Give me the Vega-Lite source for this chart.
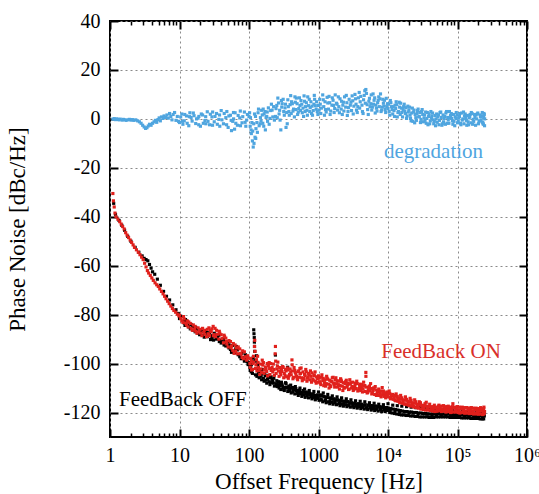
{
"$schema":"https://vega.github.io/schema/vega-lite/v6.json",
"width":417,"height":416,
"autosize":"none",
"padding":{"left":110,"top":21,"right":12,"bottom":57},
"background":"white",
"config":{"view":{"stroke":"black","strokeWidth":2},"font":"Liberation Serif"},
"datasets":{
"deg":[
{"f":1.1,"v":-0.1},{"f":1.15,"v":0.1},{"f":1.2,"v":-0.3},{"f":1.25,"v":0},{"f":1.3,"v":-0.2},{"f":1.35,"v":-0.4},{"f":1.4,"v":-0.1},{"f":1.5,"v":-0.5},{"f":1.55,"v":-0.2},{"f":1.6,"v":-0.3},{"f":1.7,"v":-0.6},{"f":1.8,"v":-0.4},{"f":1.9,"v":-0.2},{"f":2.0,"v":-0.5},{"f":2.1,"v":-0.3},{"f":2.2,"v":-0.6},{"f":2.35,"v":-0.4},{"f":2.5,"v":-0.8},{"f":2.65,"v":-1.2},{"f":2.8,"v":-1.8},{"f":2.95,"v":-2.6},{"f":3.1,"v":-3.3},{"f":3.25,"v":-3.9},{"f":3.4,"v":-3.6},{"f":3.55,"v":-2.9},{"f":3.7,"v":-2.2},{"f":3.9,"v":-2.6},{"f":4.1,"v":-1.8},{"f":4.3,"v":-1.2},{"f":4.5,"v":-0.6},{"f":4.7,"v":-1.4},{"f":4.9,"v":-0.3},{"f":5.1,"v":0.4},{"f":5.3,"v":-0.8},{"f":5.5,"v":0.8},{"f":5.8,"v":0.2},{"f":6.0,"v":1.2},{"f":6.3,"v":0.6},{"f":6.6,"v":1.6},{"f":6.9,"v":0.3},{"f":7.2,"v":2.2},{"f":7.5,"v":1.0},{"f":7.8,"v":-0.4},{"f":8.1,"v":1.8},{"f":8.5,"v":2.6},{"f":8.9,"v":-0.6},{"f":9.3,"v":1.0},{"f":9.7,"v":-1.0},
{"f":10,"v":-1.5},{"f":10.8,"v":2.0},{"f":11.7,"v":-0.8},{"f":12.6,"v":1.2},{"f":13.6,"v":-2.8},{"f":14.7,"v":0.6},{"f":15.8,"v":2.4},{"f":17.1,"v":-1.9},{"f":18.5,"v":0.3},{"f":20,"v":-3.0},{"f":21.5,"v":1.6},{"f":23.2,"v":-0.7},{"f":25.1,"v":2.9},{"f":27.1,"v":-2.4},{"f":29.3,"v":0.8},{"f":31.6,"v":-1.2},{"f":34.1,"v":2.2},{"f":36.8,"v":-0.2},{"f":39.8,"v":3.4},{"f":42.9,"v":-2.0},{"f":46.4,"v":0.5},{"f":50.1,"v":-3.5},{"f":54.1,"v":1.5},{"f":58.4,"v":-1.0},{"f":63.1,"v":2.5},{"f":68.1,"v":-2.6},{"f":73.6,"v":0.4},{"f":79.4,"v":-1.6},{"f":85.8,"v":2.8},{"f":92.6,"v":-0.5},
{"f":11.2,"v":-2.2},{"f":14.1,"v":2.5},{"f":19,"v":1.0},{"f":24,"v":-2.0},{"f":30,"v":2.8},{"f":38,"v":-3.0},{"f":48,"v":3.0},{"f":60,"v":0.0},{"f":75,"v":3.2},{"f":90,"v":-3.0},{"f":56,"v":-4.8},{"f":62,"v":-4.2},
{"f":10.4,"v":0.8},{"f":11.0,"v":-1.0},{"f":11.9,"v":1.8},{"f":12.9,"v":-1.8},{"f":13.9,"v":0.9},{"f":15.2,"v":-0.9},{"f":16.2,"v":1.3},{"f":17.6,"v":0.0},{"f":18.9,"v":-2.4},{"f":20.6,"v":2.0},{"f":22.0,"v":-1.8},{"f":23.8,"v":0.9},{"f":25.7,"v":-1.0},{"f":27.8,"v":1.9},{"f":29.9,"v":-2.6},{"f":32.4,"v":1.0},{"f":35.0,"v":-2.2},{"f":37.7,"v":1.6},{"f":40.8,"v":-0.4},{"f":44.0,"v":2.2},{"f":47.6,"v":-2.4},{"f":51.3,"v":1.2},{"f":55.4,"v":-0.6},{"f":59.8,"v":2.6},{"f":64.6,"v":-1.8},{"f":69.8,"v":1.4},{"f":75.4,"v":-2.8},{"f":81.3,"v":0.9},{"f":87.9,"v":-1.4},{"f":94.9,"v":1.8},
{"f":100,"v":1.0},{"f":104,"v":-3.0},{"f":108,"v":-6.0},{"f":112,"v":-9.0},{"f":115,"v":-11.5},{"f":118,"v":-10.0},{"f":122,"v":-7.5},{"f":126,"v":-4.0},{"f":130,"v":-1.5},{"f":135,"v":2.5},{"f":140,"v":-2.8},{"f":146,"v":0.5},{"f":152,"v":3.5},{"f":158,"v":-1.8},{"f":165,"v":2.0},{"f":172,"v":-4.5},{"f":180,"v":1.0},{"f":190,"v":4.5},{"f":200,"v":0.2},{"f":215,"v":3.6},{"f":232,"v":-0.5},{"f":251,"v":5.5},{"f":271,"v":2.0},{"f":293,"v":7.5},{"f":316,"v":3.0},{"f":341,"v":-3.5},{"f":355,"v":-2.0},{"f":368,"v":5.0},{"f":398,"v":9.5},{"f":429,"v":3.2},{"f":464,"v":6.8},{"f":501,"v":1.8},{"f":541,"v":5.5},{"f":584,"v":2.5},{"f":631,"v":7.2},{"f":681,"v":3.5},{"f":736,"v":8.0},{"f":794,"v":2.2},{"f":858,"v":6.0},{"f":926,"v":4.0},
{"f":105,"v":0.5},{"f":110,"v":-1.5},{"f":120,"v":2.0},{"f":125,"v":-8.0},{"f":145,"v":-2.0},{"f":160,"v":4.0},{"f":185,"v":-1.0},{"f":210,"v":6.0},{"f":240,"v":1.0},{"f":260,"v":8.5},{"f":280,"v":-0.5},{"f":300,"v":6.2},{"f":330,"v":4.5},{"f":380,"v":1.5},{"f":410,"v":7.0},{"f":450,"v":0.8},{"f":480,"v":8.5},{"f":520,"v":4.2},{"f":560,"v":7.5},{"f":610,"v":1.0},{"f":650,"v":5.0},{"f":700,"v":9.0},{"f":760,"v":4.6},{"f":820,"v":1.5},{"f":880,"v":8.0},{"f":960,"v":3.0},
{"f":102,"v":2.5},{"f":107,"v":-4.5},{"f":113,"v":-5.0},{"f":117,"v":-2.0},{"f":124,"v":1.0},{"f":132,"v":-5.5},{"f":137,"v":4.0},{"f":149,"v":-0.8},{"f":155,"v":1.6},{"f":163,"v":-3.0},{"f":170,"v":3.0},{"f":176,"v":0.6},{"f":183,"v":2.8},{"f":195,"v":-2.2},{"f":205,"v":3.4},{"f":220,"v":0.8},{"f":226,"v":5.0},{"f":245,"v":4.2},{"f":255,"v":0.5},{"f":266,"v":6.5},{"f":276,"v":3.5},{"f":287,"v":-4.5},{"f":296,"v":4.8},{"f":310,"v":8.0},{"f":322,"v":1.5},{"f":335,"v":6.0},{"f":348,"v":2.6},{"f":362,"v":7.8},{"f":375,"v":3.0},{"f":390,"v":5.8},{"f":405,"v":2.2},{"f":420,"v":6.2},{"f":438,"v":4.0},{"f":458,"v":9.0},{"f":472,"v":3.8},{"f":492,"v":6.2},{"f":512,"v":2.8},{"f":532,"v":8.6},{"f":552,"v":3.4},{"f":575,"v":6.0},{"f":598,"v":4.4},{"f":620,"v":9.4},{"f":642,"v":3.0},{"f":668,"v":6.6},{"f":692,"v":1.5},{"f":720,"v":5.4},{"f":748,"v":3.0},{"f":778,"v":7.0},{"f":806,"v":5.2},{"f":840,"v":3.4},{"f":870,"v":9.6},{"f":900,"v":5.4},{"f":940,"v":7.0},{"f":980,"v":1.8},
{"f":1000,"v":5.5},{"f":1080,"v":2.2},{"f":1170,"v":7.8},{"f":1260,"v":3.8},{"f":1360,"v":6.5},{"f":1470,"v":1.8},{"f":1580,"v":8.6},{"f":1710,"v":4.2},{"f":1850,"v":6.0},{"f":2000,"v":2.5},{"f":2150,"v":7.2},{"f":2320,"v":3.2},{"f":2510,"v":9.6},{"f":2710,"v":4.6},{"f":2930,"v":6.8},{"f":3160,"v":2.0},{"f":3410,"v":8.2},{"f":3680,"v":5.0},{"f":3980,"v":7.0},{"f":4290,"v":3.0},{"f":4640,"v":11.5},{"f":5010,"v":5.8},{"f":5410,"v":8.4},{"f":5840,"v":3.6},{"f":6310,"v":7.6},{"f":6810,"v":4.4},{"f":7360,"v":9.0},{"f":7940,"v":3.0},{"f":8580,"v":6.4},{"f":9260,"v":2.6},
{"f":1040,"v":8.0},{"f":1220,"v":1.5},{"f":1420,"v":9.2},{"f":1650,"v":5.5},{"f":1930,"v":9.0},{"f":2240,"v":5.6},{"f":2600,"v":1.4},{"f":3050,"v":9.4},{"f":3520,"v":3.6},{"f":3850,"v":10.8},{"f":4450,"v":7.8},{"f":4800,"v":12.0},{"f":5200,"v":1.8},{"f":5650,"v":6.2},{"f":6100,"v":10.2},{"f":6550,"v":2.4},{"f":7100,"v":6.6},{"f":7650,"v":8.2},{"f":8250,"v":4.8},{"f":8900,"v":7.6},{"f":9600,"v":5.0},
{"f":1020,"v":3.6},{"f":1060,"v":6.0},{"f":1100,"v":4.4},{"f":1150,"v":9.8},{"f":1190,"v":5.0},{"f":1240,"v":7.0},{"f":1290,"v":2.8},{"f":1330,"v":8.8},{"f":1390,"v":4.0},{"f":1450,"v":6.6},{"f":1500,"v":3.2},{"f":1560,"v":5.6},{"f":1620,"v":7.6},{"f":1680,"v":2.6},{"f":1740,"v":9.8},{"f":1810,"v":6.4},{"f":1880,"v":3.6},{"f":1960,"v":5.0},{"f":2040,"v":8.2},{"f":2120,"v":4.0},{"f":2200,"v":1.8},{"f":2280,"v":6.8},{"f":2370,"v":9.0},{"f":2460,"v":4.8},{"f":2560,"v":6.6},{"f":2660,"v":3.0},{"f":2760,"v":8.0},{"f":2870,"v":5.6},{"f":2990,"v":3.4},{"f":3110,"v":7.4},{"f":3230,"v":5.2},{"f":3350,"v":10.0},{"f":3470,"v":6.0},{"f":3610,"v":2.6},{"f":3750,"v":8.6},{"f":3910,"v":4.4},{"f":4060,"v":9.2},{"f":4220,"v":5.6},{"f":4380,"v":2.2},{"f":4550,"v":9.6},{"f":4720,"v":6.4},{"f":4900,"v":10.4},{"f":5100,"v":3.8},{"f":5300,"v":7.2},{"f":5520,"v":5.0},{"f":5740,"v":9.8},{"f":5960,"v":4.8},{"f":6200,"v":6.0},{"f":6430,"v":8.6},{"f":6680,"v":5.6},{"f":6950,"v":3.2},{"f":7220,"v":7.6},{"f":7500,"v":5.0},{"f":7800,"v":10.2},{"f":8100,"v":3.6},{"f":8420,"v":8.0},{"f":8750,"v":5.2},{"f":9100,"v":3.8},{"f":9440,"v":8.4},{"f":9800,"v":6.2},
{"f":10000,"v":4.2},{"f":10800,"v":7.5},{"f":11700,"v":2.0},{"f":12600,"v":5.6},{"f":13600,"v":0.8},{"f":14700,"v":4.8},{"f":15800,"v":2.6},{"f":17100,"v":6.0},{"f":18500,"v":0.2},{"f":20000,"v":3.6},{"f":21500,"v":-0.8},{"f":23200,"v":2.8},{"f":25100,"v":0.5},{"f":27100,"v":4.0},{"f":29300,"v":-1.5},{"f":31600,"v":1.8},{"f":34100,"v":-0.6},{"f":36800,"v":2.6},{"f":39800,"v":-2.0},{"f":42900,"v":1.2},{"f":46400,"v":-1.0},{"f":50100,"v":2.0},{"f":54100,"v":-2.4},{"f":58400,"v":0.6},{"f":63100,"v":-1.2},{"f":68100,"v":2.4},{"f":73600,"v":-0.4},{"f":79400,"v":1.4},{"f":85800,"v":-2.2},{"f":92600,"v":0.8},{"f":100000,"v":-1.6},{"f":108000,"v":2.2},{"f":117000,"v":-0.5},{"f":126000,"v":1.2},{"f":136000,"v":-2.6},{"f":147000,"v":0.4},{"f":158000,"v":2.6},{"f":171000,"v":-1.0},{"f":185000,"v":1.6},{"f":200000,"v":-2.0},{"f":215000,"v":0.9},{"f":230000,"v":-1.4},{"f":240000,"v":2.2},{"f":245000,"v":-2.8},{"f":246000,"v":0.0},
{"f":10400,"v":3.0},{"f":11200,"v":5.0},{"f":12200,"v":3.4},{"f":13100,"v":7.0},{"f":14200,"v":3.0},{"f":15200,"v":6.4},{"f":16500,"v":3.8},{"f":17800,"v":2.2},{"f":19300,"v":5.2},{"f":20800,"v":1.5},{"f":22400,"v":4.4},{"f":24200,"v":-1.6},{"f":26100,"v":2.2},{"f":28200,"v":1.0},{"f":30500,"v":3.0},{"f":33000,"v":0.4},{"f":35500,"v":-1.8},{"f":38400,"v":1.0},{"f":41400,"v":3.0},{"f":44700,"v":-0.4},{"f":48300,"v":-2.8},{"f":52000,"v":0.8},{"f":56000,"v":2.6},{"f":60500,"v":-2.0},{"f":65500,"v":1.0},{"f":71000,"v":-1.8},{"f":76500,"v":3.0},{"f":82500,"v":0.2},{"f":89000,"v":-1.0},{"f":96000,"v":2.6},{"f":104000,"v":0.4},{"f":112000,"v":-2.4},{"f":122000,"v":2.8},{"f":131000,"v":0.2},{"f":142000,"v":-1.2},{"f":152000,"v":1.8},{"f":165000,"v":-2.2},{"f":178000,"v":0.6},{"f":193000,"v":2.0},{"f":208000,"v":-0.8},{"f":222000,"v":1.2},{"f":235000,"v":-2.2},
{"f":10200,"v":6.0},{"f":10600,"v":1.5},{"f":11000,"v":6.6},{"f":11450,"v":3.8},{"f":11900,"v":5.0},{"f":12400,"v":1.0},{"f":12900,"v":4.2},{"f":13400,"v":5.8},{"f":13900,"v":2.6},{"f":14500,"v":6.8},{"f":15000,"v":1.8},{"f":15600,"v":4.4},{"f":16200,"v":0.8},{"f":16800,"v":5.0},{"f":17400,"v":3.2},{"f":18200,"v":4.6},{"f":18800,"v":1.2},{"f":19600,"v":2.8},{"f":20400,"v":4.8},{"f":21100,"v":0.2},{"f":21900,"v":2.4},{"f":22800,"v":-1.0},{"f":23700,"v":3.6},{"f":24600,"v":1.8},{"f":25600,"v":-0.6},{"f":26600,"v":3.4},{"f":27600,"v":0.8},{"f":28700,"v":2.6},{"f":29800,"v":-0.2},{"f":31000,"v":3.8},{"f":32300,"v":-1.2},{"f":33600,"v":1.6},{"f":34800,"v":2.8},{"f":36200,"v":0.2},{"f":37600,"v":-2.4},{"f":39000,"v":2.0},{"f":40600,"v":-0.8},{"f":42200,"v":0.4},{"f":43800,"v":2.4},{"f":45500,"v":-2.0},{"f":47400,"v":1.4},{"f":49200,"v":0.0},{"f":51100,"v":-1.4},{"f":53100,"v":1.6},{"f":55200,"v":-0.6},{"f":57400,"v":2.8},{"f":59600,"v":-2.6},{"f":62000,"v":1.6},{"f":64400,"v":0.2},{"f":67000,"v":-2.2},{"f":69600,"v":3.0},{"f":72300,"v":0.6},{"f":75200,"v":-1.8},{"f":78200,"v":0.4},{"f":81300,"v":2.2},{"f":84500,"v":-0.8},{"f":87800,"v":1.8},{"f":91300,"v":-2.8},{"f":94900,"v":0.2},{"f":98700,"v":1.6},{"f":102500,"v":-0.8},{"f":106500,"v":1.0},{"f":110500,"v":-1.8},{"f":115000,"v":2.4},{"f":119500,"v":0.0},{"f":124000,"v":-2.0},{"f":129000,"v":2.0},{"f":134000,"v":-0.6},{"f":139000,"v":1.4},{"f":144500,"v":-2.4},{"f":150000,"v":0.8},{"f":156000,"v":-1.6},{"f":162000,"v":2.2},{"f":168000,"v":-0.2},{"f":175000,"v":1.8},{"f":182000,"v":-2.6},{"f":189000,"v":0.0},{"f":196000,"v":2.4},{"f":204000,"v":-1.2},{"f":212000,"v":1.6},{"f":219000,"v":-0.4},{"f":227000,"v":2.6},{"f":233000,"v":-1.8},{"f":238000,"v":0.6},{"f":243000,"v":1.8}
],
"on":[
{"f":1.1,"v":-30.5},{"f":1.12,"v":-33.5},{"f":1.15,"v":-36},{"f":1.18,"v":-38.5},{"f":1.22,"v":-40},{"f":1.3,"v":-41},{"f":1.38,"v":-42},{"f":1.45,"v":-43},{"f":1.52,"v":-44},{"f":1.6,"v":-45},{"f":1.68,"v":-46.5},{"f":1.76,"v":-47.5},{"f":1.85,"v":-48.5},{"f":1.95,"v":-49.5},{"f":2.05,"v":-50.5},{"f":2.15,"v":-51.5},{"f":2.25,"v":-52.5},{"f":2.4,"v":-53.5},{"f":2.55,"v":-54.5},{"f":2.7,"v":-55.5},{"f":2.85,"v":-56.5},{"f":3.0,"v":-57.5},{"f":3.15,"v":-59},{"f":3.3,"v":-60.5},{"f":3.45,"v":-62},{"f":3.6,"v":-63},{"f":3.8,"v":-64},{"f":4.0,"v":-65},{"f":4.2,"v":-66},{"f":4.45,"v":-67},{"f":4.7,"v":-67.8},{"f":4.95,"v":-68.5},{"f":5.2,"v":-69.5},{"f":5.5,"v":-70.5},{"f":5.8,"v":-71.5},{"f":6.1,"v":-72.5},{"f":6.4,"v":-73.5},{"f":6.75,"v":-74.5},{"f":7.1,"v":-75.5},{"f":7.5,"v":-76.5},{"f":7.9,"v":-77.5},{"f":8.3,"v":-78.3},{"f":8.8,"v":-79},{"f":9.3,"v":-79.8},{"f":9.8,"v":-80.5},
{"f":10,"v":-80.2},{"f":10.8,"v":-82.5},{"f":11.7,"v":-81.8},{"f":12.6,"v":-84.2},{"f":13.6,"v":-83.0},{"f":14.7,"v":-85.6},{"f":15.8,"v":-84.2},{"f":17.1,"v":-86.8},{"f":18.5,"v":-85.4},{"f":20,"v":-87.5},{"f":21.5,"v":-85.6},{"f":23.2,"v":-88.0},{"f":25.1,"v":-86.0},{"f":27.1,"v":-88.6},{"f":29.3,"v":-85.8},{"f":31.6,"v":-88.2},{"f":34.1,"v":-86.4},{"f":36.8,"v":-90.0},{"f":39.8,"v":-88.2},{"f":42.9,"v":-91.5},{"f":46.4,"v":-89.6},{"f":50.1,"v":-93.2},{"f":54.1,"v":-91.0},{"f":58.4,"v":-94.6},{"f":63.1,"v":-92.4},{"f":68.1,"v":-96.0},{"f":73.6,"v":-94.0},{"f":79.4,"v":-97.5},{"f":85.8,"v":-95.2},{"f":92.6,"v":-98.6},
{"f":11.2,"v":-83.2},{"f":13,"v":-82.6},{"f":16.4,"v":-86.0},{"f":19,"v":-87.0},{"f":22.3,"v":-87.2},{"f":26,"v":-87.8},{"f":28,"v":-86.4},{"f":30.5,"v":-84.8},{"f":33,"v":-89.0},{"f":38,"v":-87.6},{"f":44.5,"v":-89.0},{"f":48,"v":-92.0},{"f":56,"v":-92.8},{"f":61,"v":-95.8},{"f":66,"v":-93.6},{"f":77,"v":-96.2},{"f":83,"v":-98.0},{"f":96,"v":-96.8},
{"f":10.4,"v":-81.6},{"f":11.4,"v":-80.8},{"f":12.2,"v":-83.4},{"f":13.3,"v":-85.0},{"f":14.3,"v":-83.6},{"f":15.3,"v":-86.4},{"f":16.8,"v":-84.8},{"f":17.8,"v":-87.6},{"f":19.8,"v":-86.0},{"f":21,"v":-88.6},{"f":22.7,"v":-86.4},{"f":24.5,"v":-89.0},{"f":26.5,"v":-85.4},{"f":28.6,"v":-87.0},{"f":30.9,"v":-88.6},{"f":32.5,"v":-85.6},{"f":35.3,"v":-88.0},{"f":37.4,"v":-86.8},{"f":41,"v":-89.8},{"f":43.8,"v":-88.4},{"f":47.2,"v":-91.0},{"f":51.5,"v":-90.6},{"f":55.1,"v":-93.6},{"f":59.5,"v":-91.8},{"f":64.5,"v":-95.0},{"f":70,"v":-93.2},{"f":75.5,"v":-95.8},{"f":81,"v":-94.8},{"f":88,"v":-97.2},{"f":94,"v":-97.6},
{"f":100,"v":-97.8},{"f":104,"v":-101.5},{"f":108,"v":-99.0},{"f":112,"v":-102.4},{"f":116,"v":-97.0},{"f":120,"v":-93.0},{"f":121,"v":-90.5},{"f":122,"v":-95.0},{"f":126,"v":-100.5},{"f":130,"v":-103.0},{"f":135,"v":-99.5},{"f":140,"v":-102.8},{"f":146,"v":-100.2},{"f":152,"v":-103.6},{"f":158,"v":-100.6},{"f":165,"v":-104.0},{"f":172,"v":-101.4},{"f":180,"v":-103.2},{"f":190,"v":-100.8},{"f":200,"v":-104.5},{"f":215,"v":-101.6},{"f":232,"v":-104.8},{"f":238,"v":-96.0},{"f":240,"v":-93.0},{"f":242,"v":-99.0},{"f":251,"v":-102.2},{"f":271,"v":-105.2},{"f":293,"v":-102.4},{"f":316,"v":-105.8},{"f":341,"v":-103.0},{"f":368,"v":-106.0},{"f":398,"v":-103.4},{"f":415,"v":-98.5},{"f":418,"v":-100.5},{"f":429,"v":-106.2},{"f":464,"v":-103.6},{"f":501,"v":-106.6},{"f":540,"v":-102.0},{"f":541,"v":-104.2},{"f":584,"v":-107.0},{"f":631,"v":-104.4},{"f":681,"v":-107.2},{"f":736,"v":-104.6},{"f":794,"v":-107.6},{"f":858,"v":-105.0},{"f":926,"v":-108.0},
{"f":106,"v":-98.0},{"f":114,"v":-100.0},{"f":133,"v":-97.0},{"f":143,"v":-104.4},{"f":155,"v":-98.6},{"f":168,"v":-102.6},{"f":185,"v":-105.0},{"f":195,"v":-99.6},{"f":208,"v":-102.8},{"f":224,"v":-100.2},{"f":260,"v":-99.4},{"f":282,"v":-103.6},{"f":305,"v":-101.2},{"f":330,"v":-104.8},{"f":355,"v":-101.8},{"f":383,"v":-104.4},{"f":445,"v":-101.6},{"f":482,"v":-105.2},{"f":520,"v":-103.0},{"f":562,"v":-101.8},{"f":608,"v":-106.0},{"f":656,"v":-102.4},{"f":708,"v":-105.4},{"f":765,"v":-103.0},{"f":826,"v":-106.4},{"f":893,"v":-103.4},{"f":960,"v":-106.2},
{"f":103,"v":-100.0},{"f":109,"v":-102.6},{"f":117,"v":-99.4},{"f":124,"v":-102.0},{"f":128,"v":-98.4},{"f":137,"v":-101.6},{"f":149,"v":-102.2},{"f":161,"v":-99.6},{"f":176,"v":-102.0},{"f":183,"v":-100.0},{"f":198,"v":-102.0},{"f":205,"v":-100.0},{"f":220,"v":-103.4},{"f":228,"v":-102.4},{"f":246,"v":-104.0},{"f":256,"v":-101.0},{"f":266,"v":-103.0},{"f":276,"v":-101.6},{"f":287,"v":-104.6},{"f":298,"v":-103.2},{"f":310,"v":-101.6},{"f":322,"v":-104.0},{"f":336,"v":-102.4},{"f":348,"v":-105.4},{"f":362,"v":-102.6},{"f":375,"v":-105.0},{"f":390,"v":-102.2},{"f":405,"v":-104.6},{"f":422,"v":-103.0},{"f":438,"v":-105.6},{"f":456,"v":-102.8},{"f":472,"v":-104.2},{"f":492,"v":-106.0},{"f":512,"v":-103.2},{"f":532,"v":-105.6},{"f":552,"v":-104.0},{"f":575,"v":-105.8},{"f":598,"v":-103.4},{"f":620,"v":-106.4},{"f":642,"v":-105.0},{"f":668,"v":-103.4},{"f":692,"v":-106.0},{"f":720,"v":-104.0},{"f":748,"v":-106.6},{"f":778,"v":-105.2},{"f":806,"v":-103.8},{"f":840,"v":-106.8},{"f":870,"v":-104.6},{"f":900,"v":-107.2},{"f":940,"v":-105.4},{"f":980,"v":-107.6},
{"f":1000,"v":-105.0},{"f":1080,"v":-108.6},{"f":1170,"v":-106.0},{"f":1260,"v":-109.2},{"f":1360,"v":-106.4},{"f":1470,"v":-108.8},{"f":1580,"v":-105.8},{"f":1710,"v":-109.6},{"f":1850,"v":-107.0},{"f":2000,"v":-110.4},{"f":2150,"v":-107.4},{"f":2320,"v":-109.8},{"f":2510,"v":-106.8},{"f":2710,"v":-110.6},{"f":2930,"v":-107.8},{"f":3160,"v":-111.0},{"f":3410,"v":-108.0},{"f":3680,"v":-111.2},{"f":3980,"v":-108.4},{"f":4290,"v":-111.6},{"f":4640,"v":-109.0},{"f":4800,"v":-103.6},{"f":4810,"v":-105.2},{"f":5010,"v":-112.0},{"f":5410,"v":-109.2},{"f":5840,"v":-112.4},{"f":6310,"v":-110.0},{"f":6810,"v":-113.0},{"f":7360,"v":-110.4},{"f":7940,"v":-113.6},{"f":8580,"v":-111.2},{"f":9260,"v":-114.0},
{"f":1040,"v":-107.4},{"f":1120,"v":-104.6},{"f":1220,"v":-107.8},{"f":1310,"v":-105.2},{"f":1420,"v":-110.0},{"f":1520,"v":-107.2},{"f":1650,"v":-108.0},{"f":1780,"v":-105.8},{"f":1930,"v":-108.6},{"f":2080,"v":-106.2},{"f":2240,"v":-111.0},{"f":2420,"v":-108.2},{"f":2610,"v":-108.8},{"f":2820,"v":-106.6},{"f":3050,"v":-109.4},{"f":3290,"v":-109.6},{"f":3550,"v":-107.2},{"f":3830,"v":-110.2},{"f":4140,"v":-109.8},{"f":4460,"v":-107.6},{"f":5200,"v":-110.8},{"f":5620,"v":-108.2},{"f":6070,"v":-111.0},{"f":6550,"v":-109.4},{"f":7080,"v":-111.6},{"f":7640,"v":-112.0},{"f":8250,"v":-109.8},{"f":8900,"v":-112.6},{"f":9620,"v":-111.6},
{"f":1020,"v":-106.0},{"f":1060,"v":-108.0},{"f":1100,"v":-105.6},{"f":1150,"v":-107.0},{"f":1190,"v":-109.0},{"f":1240,"v":-106.6},{"f":1290,"v":-108.2},{"f":1330,"v":-106.0},{"f":1390,"v":-108.4},{"f":1450,"v":-106.8},{"f":1500,"v":-109.4},{"f":1560,"v":-107.4},{"f":1620,"v":-105.6},{"f":1680,"v":-108.6},{"f":1740,"v":-106.6},{"f":1810,"v":-108.2},{"f":1880,"v":-109.6},{"f":1960,"v":-107.2},{"f":2040,"v":-109.0},{"f":2120,"v":-106.8},{"f":2200,"v":-109.2},{"f":2280,"v":-107.8},{"f":2370,"v":-110.0},{"f":2460,"v":-107.4},{"f":2560,"v":-109.6},{"f":2660,"v":-108.0},{"f":2760,"v":-110.4},{"f":2870,"v":-108.4},{"f":2990,"v":-110.0},{"f":3110,"v":-107.6},{"f":3230,"v":-110.6},{"f":3350,"v":-108.8},{"f":3470,"v":-110.2},{"f":3610,"v":-108.2},{"f":3750,"v":-110.8},{"f":3910,"v":-109.0},{"f":4060,"v":-111.0},{"f":4220,"v":-108.6},{"f":4380,"v":-110.4},{"f":4550,"v":-109.2},{"f":4720,"v":-111.4},{"f":4900,"v":-109.6},{"f":5100,"v":-111.8},{"f":5300,"v":-109.8},{"f":5520,"v":-111.2},{"f":5740,"v":-110.2},{"f":5960,"v":-112.0},{"f":6200,"v":-110.0},{"f":6430,"v":-112.6},{"f":6680,"v":-110.8},{"f":6950,"v":-112.4},{"f":7220,"v":-111.0},{"f":7500,"v":-113.0},{"f":7800,"v":-111.2},{"f":8100,"v":-112.8},{"f":8420,"v":-111.8},{"f":8750,"v":-113.4},{"f":9100,"v":-112.0},{"f":9440,"v":-113.2},{"f":9800,"v":-112.6},
{"f":10000,"v":-112.0},{"f":10800,"v":-114.4},{"f":11700,"v":-112.6},{"f":12600,"v":-115.0},{"f":13600,"v":-113.4},{"f":14700,"v":-115.8},{"f":15800,"v":-114.0},{"f":17100,"v":-116.4},{"f":18500,"v":-114.6},{"f":20000,"v":-117.0},{"f":21500,"v":-115.0},{"f":23200,"v":-117.4},{"f":25100,"v":-115.6},{"f":27100,"v":-118.0},{"f":29300,"v":-116.0},{"f":31600,"v":-118.2},{"f":34100,"v":-116.4},{"f":36800,"v":-118.6},{"f":39800,"v":-116.6},{"f":42900,"v":-119.0},{"f":46400,"v":-117.0},{"f":50100,"v":-119.4},{"f":54100,"v":-117.0},{"f":58400,"v":-119.6},{"f":63100,"v":-117.2},{"f":68100,"v":-119.8},{"f":73600,"v":-117.4},{"f":79400,"v":-120.0},{"f":85800,"v":-116.4},{"f":92600,"v":-119.6},{"f":100000,"v":-117.6},{"f":108000,"v":-120.2},{"f":117000,"v":-117.8},{"f":126000,"v":-120.2},{"f":136000,"v":-118.0},{"f":147000,"v":-120.4},{"f":158000,"v":-118.0},{"f":171000,"v":-120.6},{"f":185000,"v":-118.2},{"f":200000,"v":-120.6},{"f":215000,"v":-118.0},{"f":230000,"v":-120.8},{"f":240000,"v":-117.8},{"f":245000,"v":-119.6},
{"f":10400,"v":-111.2},{"f":11200,"v":-113.2},{"f":12200,"v":-114.0},{"f":13100,"v":-112.4},{"f":14200,"v":-114.6},{"f":15200,"v":-113.0},{"f":16500,"v":-115.2},{"f":17800,"v":-113.6},{"f":19300,"v":-115.8},{"f":20800,"v":-114.2},{"f":22400,"v":-116.4},{"f":24200,"v":-114.8},{"f":26100,"v":-116.8},{"f":28200,"v":-115.6},{"f":30500,"v":-117.2},{"f":33000,"v":-117.8},{"f":35500,"v":-115.8},{"f":38400,"v":-117.6},{"f":41400,"v":-118.0},{"f":44700,"v":-118.4},{"f":48300,"v":-118.2},{"f":52000,"v":-118.6},{"f":56000,"v":-118.4},{"f":60500,"v":-118.6},{"f":65500,"v":-118.4},{"f":71000,"v":-118.8},{"f":76500,"v":-118.6},{"f":82500,"v":-118.8},{"f":89000,"v":-118.2},{"f":96000,"v":-118.8},{"f":104000,"v":-119.0},{"f":112000,"v":-118.6},{"f":122000,"v":-119.2},{"f":131000,"v":-119.4},{"f":142000,"v":-119.0},{"f":152000,"v":-119.2},{"f":165000,"v":-119.4},{"f":178000,"v":-119.0},{"f":193000,"v":-119.6},{"f":208000,"v":-119.4},{"f":222000,"v":-119.2},{"f":235000,"v":-119.6},
{"f":10200,"v":-113.6},{"f":10600,"v":-112.2},{"f":11000,"v":-114.2},{"f":11450,"v":-112.8},{"f":11900,"v":-114.6},{"f":12400,"v":-113.0},{"f":12900,"v":-115.2},{"f":13400,"v":-113.8},{"f":13900,"v":-115.4},{"f":14500,"v":-114.2},{"f":15000,"v":-116.0},{"f":15600,"v":-114.6},{"f":16200,"v":-116.2},{"f":16800,"v":-114.8},{"f":17400,"v":-116.6},{"f":18200,"v":-115.0},{"f":18800,"v":-116.8},{"f":19600,"v":-115.4},{"f":20400,"v":-117.2},{"f":21100,"v":-115.8},{"f":21900,"v":-117.4},{"f":22800,"v":-116.0},{"f":23700,"v":-117.8},{"f":24600,"v":-116.2},{"f":25600,"v":-118.0},{"f":26600,"v":-116.6},{"f":27600,"v":-118.2},{"f":28700,"v":-116.8},{"f":29800,"v":-118.6},{"f":31000,"v":-117.0},{"f":32300,"v":-118.8},{"f":33600,"v":-117.2},{"f":34800,"v":-119.0},{"f":36200,"v":-117.4},{"f":37600,"v":-119.0},{"f":39000,"v":-117.6},{"f":40600,"v":-119.2},{"f":42200,"v":-117.6},{"f":43800,"v":-119.4},{"f":45500,"v":-117.8},{"f":47400,"v":-119.6},{"f":49200,"v":-117.8},{"f":51100,"v":-119.4},{"f":53100,"v":-117.4},{"f":55200,"v":-119.2},{"f":57400,"v":-117.4},{"f":59600,"v":-119.4},{"f":62000,"v":-117.4},{"f":64400,"v":-119.4},{"f":67000,"v":-117.6},{"f":69600,"v":-119.6},{"f":72300,"v":-117.6},{"f":75200,"v":-119.6},{"f":78200,"v":-117.8},{"f":81300,"v":-119.8},{"f":84500,"v":-117.6},{"f":87800,"v":-119.8},{"f":91300,"v":-117.8},{"f":94900,"v":-119.8},{"f":98700,"v":-117.8},{"f":102500,"v":-120.0},{"f":106500,"v":-117.8},{"f":110500,"v":-120.0},{"f":115000,"v":-118.0},{"f":119500,"v":-120.0},{"f":124000,"v":-118.0},{"f":129000,"v":-120.2},{"f":134000,"v":-118.0},{"f":139000,"v":-120.2},{"f":144500,"v":-118.2},{"f":150000,"v":-120.4},{"f":156000,"v":-118.2},{"f":162000,"v":-120.4},{"f":168000,"v":-118.2},{"f":175000,"v":-120.4},{"f":182000,"v":-118.4},{"f":189000,"v":-120.6},{"f":196000,"v":-118.4},{"f":204000,"v":-120.6},{"f":212000,"v":-118.4},{"f":219000,"v":-120.6},{"f":227000,"v":-118.6},{"f":233000,"v":-120.8},{"f":238000,"v":-118.4},{"f":243000,"v":-120.4}
],
"off":[
{"f":1.13,"v":-34.5},{"f":1.2,"v":-39},{"f":1.35,"v":-41.5},{"f":1.48,"v":-43.5},{"f":1.62,"v":-45.5},{"f":1.8,"v":-48},{"f":2.0,"v":-50},{"f":2.3,"v":-52.5},{"f":2.6,"v":-54.5},{"f":2.9,"v":-56},{"f":3.1,"v":-57},{"f":3.3,"v":-57.5},{"f":3.5,"v":-58},{"f":3.7,"v":-59.5},{"f":3.9,"v":-61},{"f":4.1,"v":-62.5},{"f":4.4,"v":-63.5},{"f":4.8,"v":-65.5},{"f":5.3,"v":-68},{"f":5.9,"v":-70.5},{"f":6.5,"v":-72.5},{"f":7.2,"v":-74},{"f":8.0,"v":-76},{"f":8.9,"v":-78},{"f":9.6,"v":-79.5},
{"f":10,"v":-81.6},{"f":10.8,"v":-80.8},{"f":11.7,"v":-83.4},{"f":12.6,"v":-82.6},{"f":13.6,"v":-85.0},{"f":14.7,"v":-84.0},{"f":15.8,"v":-86.4},{"f":17.1,"v":-85.2},{"f":18.5,"v":-87.6},{"f":20,"v":-86.2},{"f":21.5,"v":-88.4},{"f":23.2,"v":-86.6},{"f":25.1,"v":-89.0},{"f":27.1,"v":-87.4},{"f":29.3,"v":-89.4},{"f":31.6,"v":-87.6},{"f":34.1,"v":-90.0},{"f":36.8,"v":-88.4},{"f":39.8,"v":-91.6},{"f":42.9,"v":-89.8},{"f":46.4,"v":-92.8},{"f":50.1,"v":-91.2},{"f":54.1,"v":-94.2},{"f":58.4,"v":-92.6},{"f":63.1,"v":-95.6},{"f":68.1,"v":-94.4},{"f":73.6,"v":-97.2},{"f":79.4,"v":-95.8},{"f":85.8,"v":-99.0},{"f":92.6,"v":-97.6},
{"f":12,"v":-84.4},{"f":16.4,"v":-85.6},{"f":19.5,"v":-88.2},{"f":24,"v":-87.6},{"f":28,"v":-90.2},{"f":33,"v":-88.8},{"f":38,"v":-90.4},{"f":45,"v":-91.0},{"f":52,"v":-92.4},{"f":56,"v":-95.4},{"f":66,"v":-93.0},{"f":77,"v":-98.0},{"f":89,"v":-96.4},{"f":97,"v":-100.4},
{"f":10.4,"v":-80.6},{"f":11.4,"v":-82.8},{"f":12.2,"v":-82.0},{"f":13.3,"v":-84.2},{"f":14.3,"v":-85.8},{"f":15.3,"v":-84.8},{"f":16.8,"v":-87.0},{"f":17.8,"v":-86.0},{"f":19.8,"v":-87.2},{"f":21,"v":-86.8},{"f":22.7,"v":-89.2},{"f":24.5,"v":-87.2},{"f":26.5,"v":-88.4},{"f":28.6,"v":-88.6},{"f":30.9,"v":-90.4},{"f":32.5,"v":-89.0},{"f":35.3,"v":-89.2},{"f":37.4,"v":-91.0},{"f":41,"v":-90.8},{"f":43.8,"v":-92.4},{"f":47.2,"v":-91.6},{"f":51.5,"v":-93.6},{"f":55.1,"v":-92.8},{"f":59.5,"v":-94.8},{"f":64.5,"v":-94.0},{"f":70,"v":-96.4},{"f":75.5,"v":-96.0},{"f":81,"v":-97.6},{"f":88,"v":-98.2},{"f":94,"v":-99.2},
{"f":100,"v":-99.6},{"f":104,"v":-102.8},{"f":108,"v":-100.4},{"f":112,"v":-104.0},{"f":115,"v":-97.5},{"f":117,"v":-86.2},{"f":118,"v":-87.8},{"f":119,"v":-89.4},{"f":119.5,"v":-91.2},{"f":120,"v":-93.0},{"f":121,"v":-95.0},{"f":122,"v":-98.8},{"f":126,"v":-102.0},{"f":130,"v":-105.2},{"f":135,"v":-102.6},{"f":140,"v":-105.8},{"f":146,"v":-103.4},{"f":152,"v":-106.6},{"f":158,"v":-104.2},{"f":165,"v":-107.2},{"f":172,"v":-105.0},{"f":180,"v":-108.0},{"f":190,"v":-105.6},{"f":200,"v":-108.6},{"f":215,"v":-106.4},{"f":232,"v":-109.2},{"f":240,"v":-96.5},{"f":251,"v":-107.0},{"f":271,"v":-110.0},{"f":293,"v":-107.6},{"f":316,"v":-110.6},{"f":341,"v":-108.2},{"f":360,"v":-101.5},{"f":368,"v":-111.2},{"f":398,"v":-108.8},{"f":429,"v":-111.6},{"f":464,"v":-109.4},{"f":501,"v":-112.2},{"f":541,"v":-110.0},{"f":584,"v":-112.6},{"f":631,"v":-110.4},{"f":681,"v":-113.2},{"f":736,"v":-111.0},{"f":794,"v":-113.6},{"f":858,"v":-111.4},{"f":926,"v":-114.0},
{"f":106,"v":-101.2},{"f":110,"v":-98.8},{"f":125,"v":-99.0},{"f":128,"v":-96.8},{"f":133,"v":-100.4},{"f":143,"v":-103.0},{"f":155,"v":-102.4},{"f":168,"v":-104.0},{"f":185,"v":-106.4},{"f":195,"v":-107.4},{"f":208,"v":-105.4},{"f":224,"v":-108.0},{"f":260,"v":-108.6},{"f":282,"v":-108.4},{"f":305,"v":-109.2},{"f":330,"v":-109.8},{"f":355,"v":-110.0},{"f":383,"v":-110.2},{"f":410,"v":-110.0},{"f":445,"v":-110.6},{"f":482,"v":-111.0},{"f":520,"v":-111.4},{"f":562,"v":-111.8},{"f":608,"v":-111.6},{"f":656,"v":-112.2},{"f":708,"v":-112.0},{"f":765,"v":-112.6},{"f":826,"v":-112.4},{"f":893,"v":-113.0},{"f":960,"v":-112.8},
{"f":103,"v":-101.6},{"f":109,"v":-103.4},{"f":124,"v":-104.6},{"f":137,"v":-104.0},{"f":149,"v":-105.2},{"f":161,"v":-106.0},{"f":176,"v":-106.8},{"f":183,"v":-104.8},{"f":198,"v":-105.8},{"f":205,"v":-107.8},{"f":220,"v":-107.2},{"f":228,"v":-106.0},{"f":246,"v":-108.2},{"f":256,"v":-109.4},{"f":266,"v":-107.4},{"f":276,"v":-109.0},{"f":287,"v":-110.6},{"f":298,"v":-108.4},{"f":310,"v":-109.8},{"f":322,"v":-111.0},{"f":336,"v":-107.8},{"f":348,"v":-109.6},{"f":362,"v":-111.4},{"f":375,"v":-109.2},{"f":390,"v":-111.0},{"f":405,"v":-112.0},{"f":422,"v":-109.8},{"f":438,"v":-110.8},{"f":456,"v":-112.4},{"f":472,"v":-110.2},{"f":492,"v":-111.6},{"f":512,"v":-113.0},{"f":532,"v":-110.8},{"f":552,"v":-112.2},{"f":575,"v":-113.4},{"f":598,"v":-111.0},{"f":620,"v":-112.8},{"f":642,"v":-113.8},{"f":668,"v":-111.6},{"f":692,"v":-112.8},{"f":720,"v":-114.0},{"f":748,"v":-112.2},{"f":778,"v":-113.2},{"f":806,"v":-114.4},{"f":840,"v":-112.6},{"f":870,"v":-113.8},{"f":900,"v":-114.8},{"f":940,"v":-113.2},{"f":980,"v":-114.2},
{"f":1000,"v":-111.6},{"f":1080,"v":-114.4},{"f":1170,"v":-112.0},{"f":1260,"v":-114.8},{"f":1360,"v":-112.6},{"f":1470,"v":-115.4},{"f":1580,"v":-113.2},{"f":1710,"v":-115.8},{"f":1850,"v":-113.6},{"f":2000,"v":-116.2},{"f":2150,"v":-114.0},{"f":2320,"v":-116.6},{"f":2510,"v":-114.4},{"f":2710,"v":-117.0},{"f":2930,"v":-114.8},{"f":3160,"v":-117.4},{"f":3410,"v":-115.2},{"f":3680,"v":-117.6},{"f":3980,"v":-115.4},{"f":4290,"v":-117.8},{"f":4640,"v":-115.6},{"f":5010,"v":-118.2},{"f":5410,"v":-116.0},{"f":5840,"v":-118.4},{"f":6310,"v":-116.2},{"f":6810,"v":-118.6},{"f":7360,"v":-116.6},{"f":7940,"v":-118.8},{"f":8580,"v":-116.8},{"f":9260,"v":-119.0},
{"f":1040,"v":-113.2},{"f":1120,"v":-113.0},{"f":1220,"v":-113.6},{"f":1310,"v":-113.8},{"f":1420,"v":-114.0},{"f":1520,"v":-114.2},{"f":1650,"v":-114.6},{"f":1780,"v":-114.8},{"f":1930,"v":-115.0},{"f":2080,"v":-115.2},{"f":2240,"v":-115.4},{"f":2420,"v":-115.6},{"f":2610,"v":-115.6},{"f":2820,"v":-116.0},{"f":3050,"v":-116.2},{"f":3290,"v":-116.4},{"f":3550,"v":-116.6},{"f":3830,"v":-116.6},{"f":4140,"v":-116.8},{"f":4460,"v":-117.0},{"f":5200,"v":-117.0},{"f":5620,"v":-117.2},{"f":6070,"v":-117.4},{"f":6550,"v":-117.4},{"f":7080,"v":-117.6},{"f":7640,"v":-117.8},{"f":8250,"v":-117.8},{"f":8900,"v":-118.0},{"f":9620,"v":-118.0},
{"f":1020,"v":-115.0},{"f":1060,"v":-112.8},{"f":1100,"v":-114.8},{"f":1150,"v":-115.6},{"f":1190,"v":-113.4},{"f":1240,"v":-115.2},{"f":1290,"v":-116.0},{"f":1330,"v":-113.8},{"f":1390,"v":-115.6},{"f":1450,"v":-116.4},{"f":1500,"v":-114.2},{"f":1560,"v":-115.8},{"f":1620,"v":-116.6},{"f":1680,"v":-114.4},{"f":1740,"v":-116.0},{"f":1810,"v":-116.8},{"f":1880,"v":-114.8},{"f":1960,"v":-116.4},{"f":2040,"v":-117.2},{"f":2120,"v":-115.2},{"f":2200,"v":-116.6},{"f":2280,"v":-117.4},{"f":2370,"v":-115.4},{"f":2460,"v":-116.8},{"f":2560,"v":-117.6},{"f":2660,"v":-115.6},{"f":2760,"v":-117.0},{"f":2870,"v":-117.8},{"f":2990,"v":-116.0},{"f":3110,"v":-117.2},{"f":3230,"v":-118.0},{"f":3350,"v":-116.2},{"f":3470,"v":-117.4},{"f":3610,"v":-118.2},{"f":3750,"v":-116.4},{"f":3910,"v":-117.6},{"f":4060,"v":-118.4},{"f":4220,"v":-116.6},{"f":4380,"v":-117.8},{"f":4550,"v":-118.6},{"f":4720,"v":-116.8},{"f":4900,"v":-118.0},{"f":5100,"v":-118.8},{"f":5300,"v":-117.0},{"f":5520,"v":-118.2},{"f":5740,"v":-119.0},{"f":5960,"v":-117.2},{"f":6200,"v":-118.4},{"f":6430,"v":-119.2},{"f":6680,"v":-117.4},{"f":6950,"v":-118.6},{"f":7220,"v":-119.4},{"f":7500,"v":-117.6},{"f":7800,"v":-118.8},{"f":8100,"v":-119.6},{"f":8420,"v":-117.8},{"f":8750,"v":-119.0},{"f":9100,"v":-119.6},{"f":9440,"v":-118.0},{"f":9800,"v":-119.2},
{"f":10000,"v":-116.4},{"f":10800,"v":-119.0},{"f":11700,"v":-117.0},{"f":12600,"v":-119.4},{"f":13600,"v":-117.2},{"f":14700,"v":-119.6},{"f":15800,"v":-117.4},{"f":17100,"v":-119.8},{"f":18500,"v":-117.6},{"f":20000,"v":-120.0},{"f":21500,"v":-117.8},{"f":23200,"v":-120.2},{"f":25100,"v":-118.0},{"f":27100,"v":-120.4},{"f":29300,"v":-118.0},{"f":31600,"v":-120.4},{"f":34100,"v":-118.2},{"f":36800,"v":-120.6},{"f":39800,"v":-118.4},{"f":42900,"v":-120.8},{"f":46400,"v":-118.4},{"f":50100,"v":-121.2},{"f":54100,"v":-118.6},{"f":58400,"v":-121.0},{"f":63100,"v":-118.8},{"f":68100,"v":-121.2},{"f":73600,"v":-119.0},{"f":79400,"v":-121.4},{"f":85800,"v":-119.0},{"f":92600,"v":-121.4},{"f":100000,"v":-119.2},{"f":108000,"v":-121.6},{"f":117000,"v":-119.4},{"f":126000,"v":-121.6},{"f":136000,"v":-119.6},{"f":147000,"v":-121.8},{"f":158000,"v":-119.8},{"f":171000,"v":-121.8},{"f":185000,"v":-120.0},{"f":200000,"v":-122.0},{"f":215000,"v":-120.2},{"f":230000,"v":-122.0},{"f":240000,"v":-120.4},
{"f":10200,"v":-118.2},{"f":10600,"v":-120.0},{"f":11000,"v":-118.4},{"f":11450,"v":-120.2},{"f":11900,"v":-118.6},{"f":12400,"v":-120.4},{"f":12900,"v":-118.8},{"f":13400,"v":-120.6},{"f":13900,"v":-119.0},{"f":14500,"v":-120.8},{"f":15000,"v":-119.2},{"f":15600,"v":-121.0},{"f":16200,"v":-119.4},{"f":16800,"v":-121.0},{"f":17400,"v":-119.6},{"f":18200,"v":-121.2},{"f":18800,"v":-119.6},{"f":19600,"v":-121.2},{"f":20400,"v":-119.8},{"f":21100,"v":-121.4},{"f":21900,"v":-119.8},{"f":22800,"v":-121.4},{"f":23700,"v":-120.0},{"f":24600,"v":-121.6},{"f":25600,"v":-120.0},{"f":26600,"v":-121.6},{"f":27600,"v":-120.2},{"f":28700,"v":-121.8},{"f":29800,"v":-120.2},{"f":31000,"v":-121.8},{"f":32300,"v":-120.4},{"f":33600,"v":-121.8},{"f":34800,"v":-120.4},{"f":36200,"v":-121.8},{"f":37600,"v":-120.6},{"f":39000,"v":-122.0},{"f":40600,"v":-120.6},{"f":42200,"v":-122.0},{"f":43800,"v":-120.6},{"f":45500,"v":-122.0},{"f":47400,"v":-120.6},{"f":49200,"v":-121.8},{"f":51100,"v":-120.4},{"f":53100,"v":-121.8},{"f":55200,"v":-120.4},{"f":57400,"v":-121.8},{"f":59600,"v":-120.6},{"f":62000,"v":-121.8},{"f":64400,"v":-120.6},{"f":67000,"v":-121.8},{"f":69600,"v":-120.6},{"f":72300,"v":-121.8},{"f":75200,"v":-120.6},{"f":78200,"v":-122.0},{"f":81300,"v":-120.6},{"f":84500,"v":-122.0},{"f":87800,"v":-120.8},{"f":91300,"v":-122.0},{"f":94900,"v":-120.8},{"f":98700,"v":-122.0},{"f":102500,"v":-120.8},{"f":106500,"v":-122.0},{"f":110500,"v":-120.8},{"f":115000,"v":-122.2},{"f":119500,"v":-120.8},{"f":124000,"v":-122.2},{"f":129000,"v":-121.0},{"f":134000,"v":-122.2},{"f":139000,"v":-121.0},{"f":144500,"v":-122.2},{"f":150000,"v":-121.0},{"f":156000,"v":-122.4},{"f":162000,"v":-121.0},{"f":168000,"v":-122.4},{"f":175000,"v":-121.2},{"f":182000,"v":-122.4},{"f":189000,"v":-121.2},{"f":196000,"v":-122.4},{"f":204000,"v":-121.2},{"f":212000,"v":-122.6},{"f":219000,"v":-121.2},{"f":227000,"v":-122.6},{"f":233000,"v":-121.4},{"f":238000,"v":-122.6},{"f":243000,"v":-121.4}
],
"lab_deg":[{"f":45200,"v":-13.5,"t":"degradation"}],
"lab_on":[{"f":58000,"v":-95.3,"t":"FeedBack ON"}],
"lab_off":[{"f":11.2,"v":-115,"t":"FeedBack OFF"}],
"frame":[{"f":1,"v":0}]
},
"layer":[
{"data":{"name":"off"},
 "mark":{"type":"square","size":10,"color":"black","opacity":1},
 "encoding":{
  "x":{"field":"f","type":"quantitative","scale":{"type":"log","domain":[1,1000000],"nice":false},
   "axis":{"orient":"bottom","title":"Offset Frequency [Hz]",
    "values":[1,2,3,4,5,6,7,8,9,10,20,30,40,50,60,70,80,90,100,200,300,400,500,600,700,800,900,1000,2000,3000,4000,5000,6000,7000,8000,9000,10000,20000,30000,40000,50000,60000,70000,80000,90000,100000,200000,300000,400000,500000,600000,700000,800000,900000,1000000],
    "labelExpr":"datum.value==1?'1':datum.value==10?'10':datum.value==100?'100':datum.value==1000?'1000':datum.value==10000?'10\u2074':datum.value==100000?'10\u2075':datum.value==1000000?'10\u2076':''",
    "labelOverlap":false,"labelFlush":false,"labelFontSize":20,"labelColor":"black","labelFont":"Liberation Serif","labelPadding":16,
    "domain":false,"tickColor":"black",
    "tickSize":{"condition":{"test":"indexof([1,10,100,1000,10000,100000,1000000],datum.value)>=0","value":-8},"value":-4},
    "tickWidth":{"condition":{"test":"indexof([1,10,100,1000,10000,100000,1000000],datum.value)>=0","value":2},"value":1.5},
    "grid":true,"gridColor":"#8a8a8a","gridDash":[2,3],"gridWidth":1,
    "gridOpacity":{"condition":{"test":"indexof([1,10,100,1000,10000,100000,1000000],datum.value)>=0","value":1},"value":0},
    "titleFontSize":23,"titleFont":"Liberation Serif","titleFontWeight":"normal","titleColor":"black","titlePadding":1}},
  "y":{"field":"v","type":"quantitative","scale":{"domain":[-130,40],"nice":false,"zero":false},
   "axis":{"orient":"left","title":"Phase Noise [dBc/Hz]","values":[-120,-100,-80,-60,-40,-20,0,20,40],
    "labelExpr":"''+datum.value","labelFontSize":20,"labelColor":"black","labelFont":"Liberation Serif","labelPadding":18,
    "domain":false,"tickColor":"black","tickSize":-8,"tickWidth":2,
    "grid":true,"gridColor":"#8a8a8a","gridDash":[2,3],"gridWidth":1,
    "titleFontSize":23,"titleFont":"Liberation Serif","titleFontWeight":"normal","titleColor":"black","titlePadding":34}}
 }},
{"data":{"name":"on"},
 "mark":{"type":"square","size":10,"color":"#e0201c","opacity":1},
 "encoding":{
  "x":{"field":"f","type":"quantitative","scale":{"type":"log","domain":[1,1000000],"nice":false},"axis":null},
  "y":{"field":"v","type":"quantitative","scale":{"domain":[-130,40],"nice":false,"zero":false},"axis":null}}},
{"data":{"name":"deg"},
 "mark":{"type":"square","size":10,"color":"#4fa5df","opacity":1},
 "encoding":{
  "x":{"field":"f","type":"quantitative","scale":{"type":"log","domain":[1,1000000],"nice":false},"axis":null},
  "y":{"field":"v","type":"quantitative","scale":{"domain":[-130,40],"nice":false,"zero":false},"axis":null}}},
{"data":{"name":"lab_deg"},
 "mark":{"type":"text","font":"Liberation Serif","fontSize":21,"color":"#4fa5df","align":"center","baseline":"middle"},
 "encoding":{
  "x":{"field":"f","type":"quantitative","scale":{"type":"log","domain":[1,1000000],"nice":false},"axis":null},
  "y":{"field":"v","type":"quantitative","scale":{"domain":[-130,40],"nice":false,"zero":false},"axis":null},
  "text":{"field":"t"}}},
{"data":{"name":"lab_on"},
 "mark":{"type":"text","font":"Liberation Serif","fontSize":21,"color":"#d9302a","align":"center","baseline":"middle"},
 "encoding":{
  "x":{"field":"f","type":"quantitative","scale":{"type":"log","domain":[1,1000000],"nice":false},"axis":null},
  "y":{"field":"v","type":"quantitative","scale":{"domain":[-130,40],"nice":false,"zero":false},"axis":null},
  "text":{"field":"t"}}},
{"data":{"name":"lab_off"},
 "mark":{"type":"text","font":"Liberation Serif","fontSize":21,"color":"black","align":"center","baseline":"middle"},
 "encoding":{
  "x":{"field":"f","type":"quantitative","scale":{"type":"log","domain":[1,1000000],"nice":false},"axis":null},
  "y":{"field":"v","type":"quantitative","scale":{"domain":[-130,40],"nice":false,"zero":false},"axis":null},
  "text":{"field":"t"}}},
{"data":{"name":"frame"},
 "mark":{"type":"point","opacity":0},
 "encoding":{
  "x":{"field":"f","type":"quantitative","scale":{"type":"log","domain":[1,1000000],"nice":false},
   "axis":{"orient":"top","title":null,"labels":false,"grid":false,"domain":false,"tickColor":"black",
    "values":[1,2,3,4,5,6,7,8,9,10,20,30,40,50,60,70,80,90,100,200,300,400,500,600,700,800,900,1000,2000,3000,4000,5000,6000,7000,8000,9000,10000,20000,30000,40000,50000,60000,70000,80000,90000,100000,200000,300000,400000,500000,600000,700000,800000,900000,1000000],
    "tickSize":{"condition":{"test":"indexof([1,10,100,1000,10000,100000,1000000],datum.value)>=0","value":-8},"value":-4},
    "tickWidth":{"condition":{"test":"indexof([1,10,100,1000,10000,100000,1000000],datum.value)>=0","value":2},"value":1.5}}},
  "y":{"field":"v","type":"quantitative","scale":{"domain":[-130,40],"nice":false,"zero":false},
   "axis":{"orient":"right","title":null,"labels":false,"grid":false,"domain":false,"tickColor":"black","tickSize":-8,"tickWidth":2,"values":[-120,-100,-80,-60,-40,-20,0,20,40]}}}}
]
}
